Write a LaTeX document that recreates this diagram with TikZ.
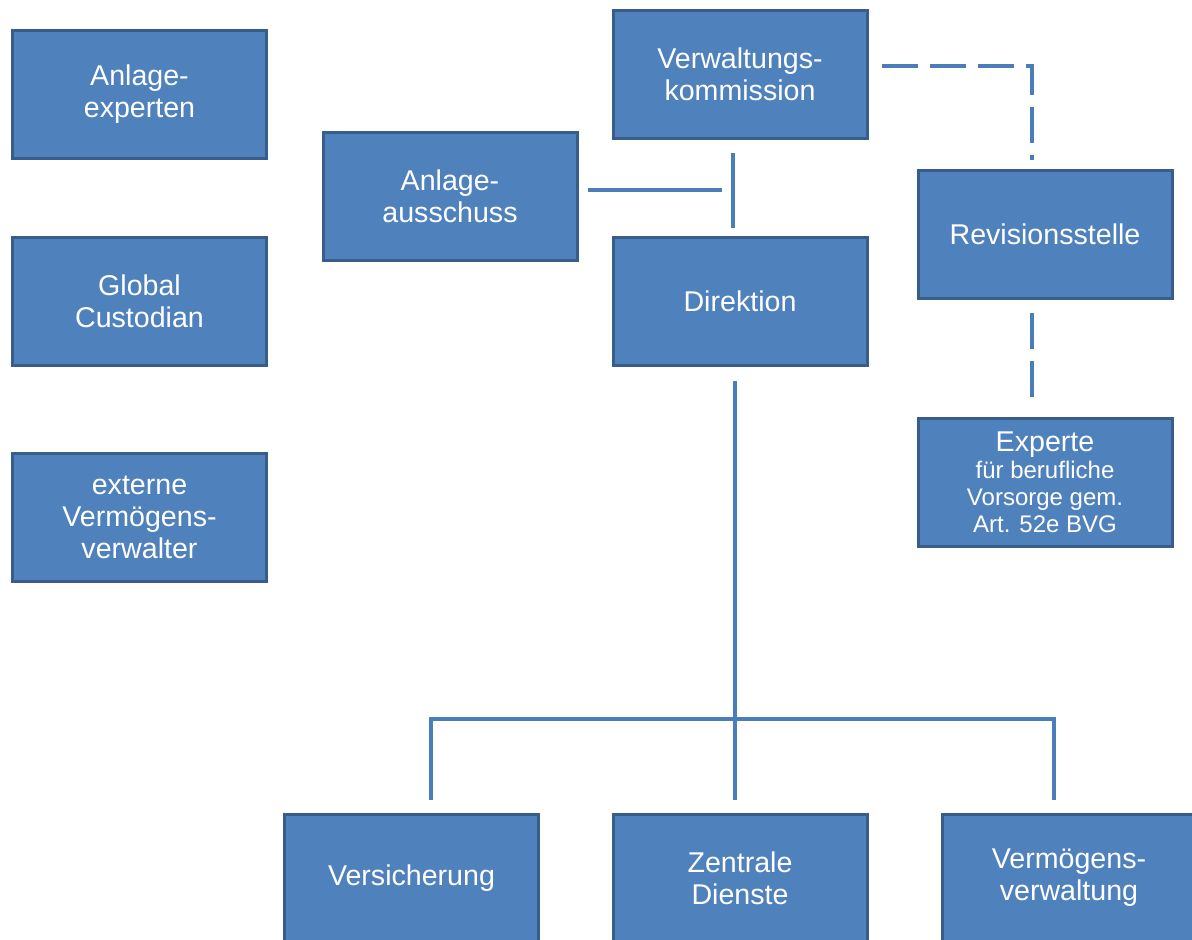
\documentclass[tikz,border=0pt]{standalone}
\usepackage{fontspec}
\setmainfont{Liberation Sans}
\definecolor{boxfill}{HTML}{4F81BD}
\definecolor{boxline}{HTML}{385D8A}
\definecolor{linkcol}{HTML}{4A7EBB}
\newcommand{\smallorg}{\fontsize{12pt}{13.5pt}\selectfont}

\begin{document}
\begin{tikzpicture}[x=0.5pt,y=-0.5pt,
    orgbox/.style={draw=boxline, line width=1.5pt, fill=boxfill, text=white,
        minimum width=127pt, minimum height=64pt, inner sep=0pt, align=center,
        font=\fontsize{14.3pt}{16pt}\selectfont},
    link/.style={draw=linkcol, line width=2pt},
    dashlink/.style={link, dash pattern=on 18pt off 6pt}]

                % Frame
                \useasboundingbox (0,0) rectangle (1192,940);
                \clip (0,0) rectangle (1192,940);

                % Left column
                \node[orgbox] (ae) at (139.5,94.5) {Anlage-\\experten};
                \node[orgbox] (gc) at (139.5,301.5) {Global\\Custodian};
                \node[orgbox] (ev) at (139.5,517.5) {externe\\Vermögens-\\verwalter};

                % Top
                \node[orgbox] (vk) at (740,74.5) {Verwaltungs-\\kommission};
                \node[orgbox] (aa) at (450,196.5) {Anlage-\\ausschuss};
                \node[orgbox] (di) at (740,301.5) {Direktion};
                \node[orgbox] (rs) at (1045,234.5) {Revisionsstelle};
                \node[orgbox] (ex) at (1045,482.5) {Experte\\[-2.5pt]\smallorg für berufliche\\[-2.5pt]\smallorg Vorsorge gem.\\[-2.5pt]\smallorg Art. 52e BVG};

                % Bottom row
                \node[orgbox] (vs) at (411.5,878) {Versicherung};
                \node[orgbox] (zd) at (740,878) {Zentrale\\Dienste};
                \node[orgbox] (vv) at (1069,878) {Vermögens-\\verwaltung};

                % Join points
                \coordinate (kn) at (733,190);
                \coordinate (rc) at (1032,66);
                \coordinate (bl) at (431,719);
                \coordinate (br) at (1054,719);

                % Kommission to Direktion, Ausschuss
                \draw[link, shorten <=6.5pt, shorten >=4pt] ([xshift=-3.5pt]vk.south) -- ([xshift=-3.5pt]di.north);
                \draw[link, shorten <=4.5pt, shorten >=5.5pt] (aa.east |- kn) -- (kn);

                % Revision (dashed)
                \draw[dashlink, shorten <=6.5pt, shorten >=4.5pt] (vk.east |- rc) -- (rc) -- (rc |- rs.north);
                \draw[dashlink, shorten <=6.5pt, shorten >=5.5pt] ([xshift=-6.5pt]rs.south) -- ([xshift=-6.5pt]ex.north);

                % Direktion to departments
                \draw[link, shorten <=7pt, shorten >=6.5pt] ([xshift=-2.5pt]di.south) -- ([xshift=-2.5pt]zd.north);
                \draw[link, shorten <=6.5pt, shorten >=6.5pt] (bl |- vs.north) -- (bl) -- (br) -- (br |- vv.north);

\end{tikzpicture}
\end{document}
